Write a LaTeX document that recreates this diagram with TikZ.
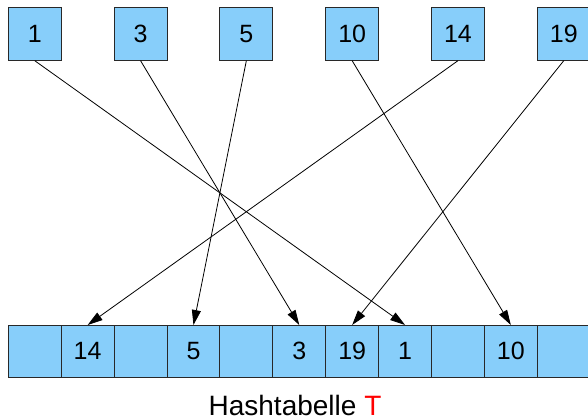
\documentclass[tikz,border=0pt]{standalone}
\usepackage{fontspec}
\setmainfont{Liberation Sans}
\usetikzlibrary{arrows.meta}
\definecolor{cellblue}{RGB}{135,206,250}
\definecolor{edgegray}{RGB}{40,40,40}
\tikzset{
  keybox/.style={draw=edgegray, line width=1pt, fill=cellblue, minimum width=52.9pt, minimum height=53.4pt, inner sep=0pt, outer sep=0pt, font=\fontsize{25}{30}\selectfont, text=black},
  cellbox/.style={draw=edgegray, line width=1pt, fill=cellblue, minimum width=52.9pt, minimum height=52.7pt, inner sep=0pt, outer sep=0pt, font=\fontsize{25}{30}\selectfont, text=black},
  hasharrow/.style={draw=black, line width=0.8pt, -{Triangle[length=15pt,width=9pt]}}
}
\begin{document}
\begin{tikzpicture}[x=1pt,y=1pt]
\useasboundingbox (0,0) rectangle (588,418);
\clip (0,0) rectangle (588,418);
% top keys
\foreach \lab/\i/\nm in {1/0/k1,3/2/k3,5/4/k5,10/6/k10,14/8/k14,19/10/k19}{
  \node[keybox] (\nm) at ({8.3+52.9*\i+26.45},384) {\lab};
}
% hash table cells
\foreach \lab/\i in {{}/0,14/1,{}/2,5/3,{}/4,3/5,19/6,1/7,{}/8,10/9,{}/10}{
  \node[cellbox] (c\i) at ({8.3+52.9*\i+26.45},66.65) {\lab};
}
% arrows
\draw[hasharrow] (k1.south) -- (c7.north);
\draw[hasharrow] (k3.south) -- (c5.north);
\draw[hasharrow] (k5.south) -- (c3.north);
\draw[hasharrow] (k10.south) -- (c9.north);
\draw[hasharrow] (k14.south) -- (c1.north);
\draw[hasharrow] (k19.south) -- (c6.north);
% caption
\node[anchor=base, inner sep=0pt, text depth=0pt, font=\fontsize{28}{32}\selectfont] (cap) at (295,3) {Hashtabelle \textcolor{red}{T}};
\end{tikzpicture}
\end{document}
